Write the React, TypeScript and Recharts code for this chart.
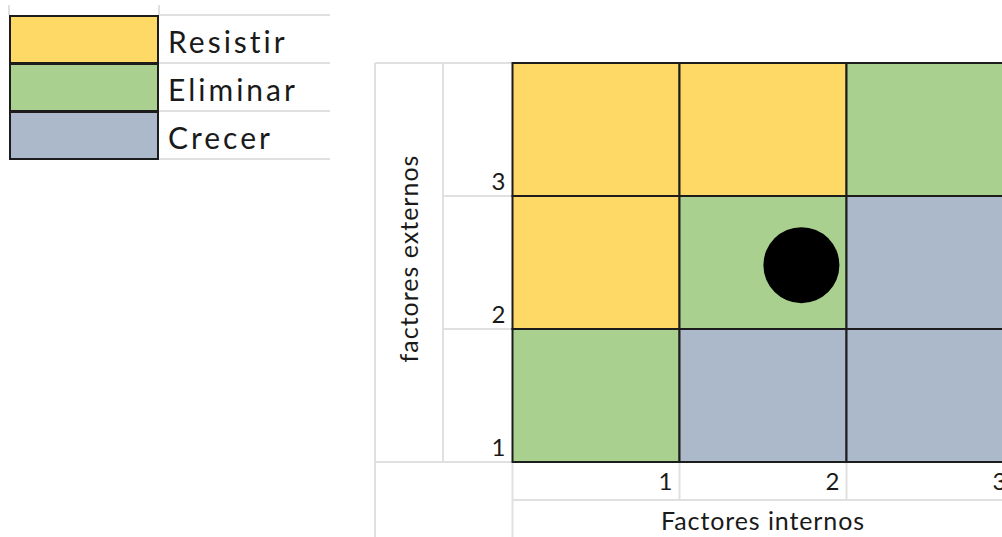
import { ScatterChart, Scatter, XAxis, YAxis, ReferenceArea, Legend, Label } from 'recharts'

// strategy zones, legend order
const zones = ['Resistir', 'Eliminar', 'Crecer']
const zoneColors: Record<string, string> = {
  Resistir: '#FFD966',
  Eliminar: '#A9D08E',
  Crecer: '#ACB9CA',
}

// factores internos (columns) and factores externos (rows)
const internos = [1, 2, 3]
const externos = [1, 2, 3]

// zone of each cell, one list per row of factores externos, columns by factores internos
const externos1 = ['Eliminar', 'Crecer', 'Crecer']
const externos2 = ['Resistir', 'Eliminar', 'Crecer']
const externos3 = ['Resistir', 'Resistir', 'Eliminar']
const zoneRows = [externos1, externos2, externos3]

// evaluated position
const posicion = [{ internos: 1.73, externos: 2.48 }]

const CHART_W = 1020
const CHART_H = 537
const MARGIN = { top: 63, right: 6.5, bottom: 0, left: 375 }
const Y_AXIS_W = 137.5
const X_AXIS_H = 75
const LABEL_COL_W = 68

const FONT = 'Lato, "Open Sans", sans-serif'
const TEXT = '#1a1a1a'
const SHEET_LINE = '#e0e0e0'
const CELL_BORDER = '#1c1c1c'

const plotLeft = MARGIN.left + Y_AXIS_W
const plotTop = MARGIN.top
const plotRight = CHART_W - MARGIN.right
const plotBottom = CHART_H - MARGIN.bottom - X_AXIS_H
const colW = (plotRight - plotLeft) / internos.length
const rowH = (plotBottom - plotTop) / externos.length

const cells = zoneRows.flatMap((row, r) =>
  row.map((zone, c) => ({
    x1: internos[c] - 1,
    x2: internos[c],
    y1: externos[r],
    y2: externos[r] + 1,
    zone,
  })),
)

function XTick({ x, y, payload }: any) {
  return (
    <text x={x - 7} y={y + 28} textAnchor="end" fontFamily={FONT} fontSize={24} fill={TEXT}>
      {payload.value}
    </text>
  )
}

function YTick({ x, y, payload }: any) {
  return (
    <text x={x - 7} y={y - 6} textAnchor="end" fontFamily={FONT} fontSize={24} fill={TEXT}>
      {payload.value}
    </text>
  )
}

function ZoneLegend() {
  const rowHeight = 48
  return (
    <svg width={340} height={170}>
      <line x1={9} y1={5} x2={9} y2={15} stroke={SHEET_LINE} strokeWidth={2} />
      <line x1={159} y1={5} x2={159} y2={15} stroke={SHEET_LINE} strokeWidth={2} />
      {zones.map((z, i) => (
        <g key={z}>
          <line x1={159} y1={15 + i * rowHeight} x2={330} y2={15 + i * rowHeight} stroke={SHEET_LINE} strokeWidth={2} />
          <rect
            x={10}
            y={16 + i * rowHeight}
            width={148}
            height={rowHeight - 1}
            fill={zoneColors[z]}
            stroke={CELL_BORDER}
            strokeWidth={2}
          />
          <text
            x={168}
            y={53 + i * rowHeight}
            fontFamily={FONT}
            fontSize={30}
            letterSpacing={3}
            fill={TEXT}
          >
            {z}
          </text>
        </g>
      ))}
      <line x1={159} y1={159} x2={330} y2={159} stroke={SHEET_LINE} strokeWidth={2} />
    </svg>
  )
}

// light worksheet grid around the matrix
function SheetLines() {
  const labelColRight = MARGIN.left + LABEL_COL_W
  const tickRowBottom = plotBottom + 38
  return (
    <g stroke={SHEET_LINE} strokeWidth={2}>
      <line x1={MARGIN.left} y1={plotTop} x2={plotLeft} y2={plotTop} />
      <line x1={MARGIN.left} y1={plotTop} x2={MARGIN.left} y2={CHART_H} />
      <line x1={labelColRight} y1={plotTop} x2={labelColRight} y2={plotBottom} />
      {externos.slice(1).map((e, i) => (
        <line key={e} x1={labelColRight} y1={plotTop + (i + 1) * rowH} x2={plotLeft} y2={plotTop + (i + 1) * rowH} />
      ))}
      <line x1={MARGIN.left} y1={plotBottom} x2={plotLeft} y2={plotBottom} />
      <line x1={plotLeft} y1={plotBottom} x2={plotLeft} y2={CHART_H} />
      {internos.map((v, i) => (
        <line key={v} x1={plotLeft + (i + 1) * colW} y1={plotBottom} x2={plotLeft + (i + 1) * colW} y2={tickRowBottom} />
      ))}
      <line x1={plotLeft} y1={tickRowBottom} x2={CHART_W} y2={tickRowBottom} />
    </g>
  )
}

export default function App() {
  return (
    <div
      style={{
        position: 'fixed',
        left: 0,
        top: 0,
        width: 1002,
        height: 537,
        overflow: 'hidden',
        background: '#fff',
      }}
    >
      <ScatterChart width={CHART_W} height={CHART_H} margin={MARGIN}>
        <SheetLines />
        <XAxis
          type="number"
          dataKey="internos"
          domain={[0, 3]}
          ticks={internos}
          axisLine={false}
          tickLine={false}
          tickSize={0}
          tickMargin={0}
          height={X_AXIS_H}
          tick={<XTick />}
          allowDataOverflow
        >
          <Label
            content={({ viewBox }: any) => (
              <text
                x={viewBox.x + viewBox.width / 2}
                y={viewBox.y + 68}
                textAnchor="middle"
                fontFamily={FONT}
                fontSize={25}
                letterSpacing={0.9}
                fill={TEXT}
              >
                Factores internos
              </text>
            )}
          />
        </XAxis>
        <YAxis
          type="number"
          dataKey="externos"
          domain={[1, 4]}
          ticks={externos}
          axisLine={false}
          tickLine={false}
          tickSize={0}
          tickMargin={0}
          width={Y_AXIS_W}
          tick={<YTick />}
          allowDataOverflow
        >
          <Label
            content={({ viewBox }: any) => {
              const cx = viewBox.x + LABEL_COL_W / 2
              const cy = viewBox.y + viewBox.height / 2 - 4
              return (
                <text
                  x={cx}
                  y={cy}
                  dy="0.35em"
                  transform={`rotate(-90, ${cx}, ${cy})`}
                  textAnchor="middle"
                  fontFamily={FONT}
                  fontSize={25}
                  letterSpacing={1}
                  fill={TEXT}
                >
                  factores externos
                </text>
              )
            }}
          />
        </YAxis>
        {cells.map((c) => (
          <ReferenceArea
            key={`${c.x1}-${c.y1}`}
            x1={c.x1}
            x2={c.x2}
            y1={c.y1}
            y2={c.y2}
            fill={zoneColors[c.zone]}
            fillOpacity={1}
            stroke={CELL_BORDER}
            strokeWidth={2}
            ifOverflow="visible"
          />
        ))}
        <Scatter
          data={posicion}
          isAnimationActive={false}
          shape={(p: any) => <circle cx={p.cx} cy={p.cy} r={38} fill="#000" />}
        />
        <Legend
          layout="horizontal"
          align="center"
          verticalAlign="middle"
          width={340}
          height={170}
          wrapperStyle={{ top: 0, left: 0, width: 340, height: 170 }}
          content={() => <ZoneLegend />}
        />
      </ScatterChart>
    </div>
  )
}
